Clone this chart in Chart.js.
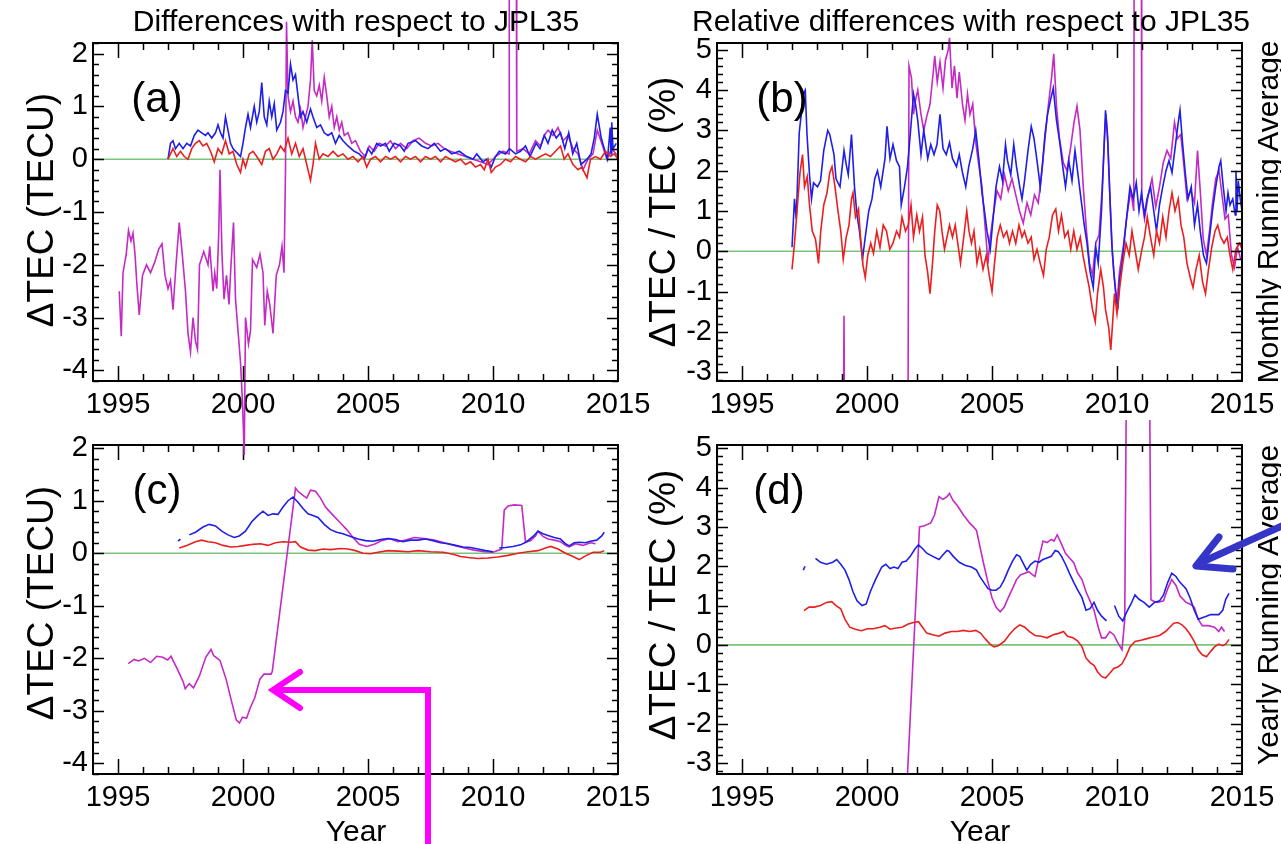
<!DOCTYPE html>
<html>
<head>
<title>TEC differences with respect to JPL35</title>
<script src="https://cdn.jsdelivr.net/npm/chart.js"></script>
<style>
  body { margin: 0; background: #fff; }
  #page { position: relative; width: 1281px; height: 844px; overflow: hidden;
          font-family: "Liberation Sans", Arial, sans-serif; color: #000; }
  canvas { position: absolute; }
  .txt { position: absolute; white-space: nowrap; line-height: 1;
         transform: translate(-50%, -50%); }
  .rot { transform: translate(-50%, -50%) rotate(-90deg); }
  svg { position: absolute; left: 0; top: 0; }
</style>
</head>
<body>
<div id="page">
  <canvas id="panelC" width="660" height="424" style="left:0;top:420px"></canvas>
  <canvas id="panelD" width="641" height="424" style="left:640px;top:420px"></canvas>
  <canvas id="panelA" width="660" height="470" style="left:0;top:0"></canvas>
  <canvas id="panelB" width="641" height="420" style="left:640px;top:0"></canvas>

  <div class="txt" style="left:356px;top:21px;font-size:30px">Differences with respect to JPL35</div>
  <div class="txt" style="left:971px;top:21px;font-size:30px">Relative differences with respect to JPL35</div>

  <div class="txt rot" style="left:40px;top:210px;font-size:37px">&Delta;TEC (TECU)</div>
  <div class="txt rot" style="left:40px;top:603px;font-size:37px">&Delta;TEC (TECU)</div>
  <div class="txt rot" style="left:662px;top:212px;font-size:37px">&Delta;TEC / TEC (%)</div>
  <div class="txt rot" style="left:662px;top:605px;font-size:37px">&Delta;TEC / TEC (%)</div>
  <div class="txt rot" style="left:1268px;top:212px;font-size:30px">Monthly Running Average</div>
  <div class="txt rot" style="left:1268px;top:605px;font-size:30px">Yearly Running Average</div>

  <div class="txt" style="left:356px;top:831px;font-size:30px">Year</div>
  <div class="txt" style="left:980px;top:831px;font-size:30px">Year</div>

  <div class="txt" style="left:157px;top:98px;font-size:42px">(a)</div>
  <div class="txt" style="left:782px;top:98px;font-size:42px">(b)</div>
  <div class="txt" style="left:157px;top:490px;font-size:42px">(c)</div>
  <div class="txt" style="left:779px;top:490px;font-size:42px">(d)</div>

  <svg width="1281" height="844">
    <polyline points="428,850 428,690 276,690" fill="none" stroke="#ff00ff" stroke-width="6"/>
    <polyline points="300,672 273,690 300,708" fill="none" stroke="#ff00ff" stroke-width="6" stroke-linecap="round"/>
    <line x1="1295" y1="520" x2="1200" y2="563" stroke="#3535c8" stroke-width="7"/>
    <polyline points="1219,537 1196,566 1233,569" fill="none" stroke="#3535c8" stroke-width="7"
              stroke-linecap="round" stroke-linejoin="round"/>
  </svg>
</div>

<script>
    // axis ticks
    const xTicks = [1995, 2000, 2005, 2010, 2015];
    const yTicksTecu = [-4, -3, -2, -1, 0, 1, 2];
    const yTicksPct = [-3, -2, -1, 0, 1, 2, 3, 4, 5];
    const zeroLine = [[1994, 0], [2015, 0]];

    // (a) monthly running average, TECU  [year, value]
    const tecuMonthlyRed = [[1997.0,0.0],[1997.1,0.1],[1997.2,0.2],[1997.35,0.05],[1997.5,0.15],[1997.65,0.05],[1997.8,0.0],[1997.95,0.2],[1998.1,0.3],[1998.25,0.35],[1998.4,0.25],[1998.55,0.3],[1998.7,0.15],[1998.85,-0.05],[1999.0,0.2],[1999.15,0.1],[1999.3,0.35],[1999.45,0.1],[1999.6,0.15],[1999.75,-0.1],[1999.9,-0.25],[2000.0,0.0],[2000.1,-0.15],[2000.25,0.1],[2000.4,0.15],[2000.55,0.05],[2000.75,-0.1],[2000.9,0.15],[2001.05,0.2],[2001.2,0.0],[2001.35,0.1],[2001.5,0.25],[2001.65,0.15],[2001.8,0.4],[2001.95,0.1],[2002.1,0.3],[2002.25,0.05],[2002.4,0.2],[2002.55,-0.1],[2002.7,-0.4],[2002.8,-0.1],[2002.9,0.3],[2003.05,0.0],[2003.2,0.1],[2003.4,0.05],[2003.6,0.15],[2003.8,0.05],[2004.0,0.1],[2004.2,0.0],[2004.4,0.05],[2004.6,-0.05],[2004.8,0.05],[2004.95,-0.15],[2005.1,0.0],[2005.3,0.05],[2005.5,-0.05],[2005.7,0.05],[2005.9,0.0],[2006.1,0.05],[2006.3,-0.05],[2006.5,0.05],[2006.7,0.0],[2006.9,0.05],[2007.1,-0.05],[2007.3,0.05],[2007.5,0.0],[2007.7,0.05],[2007.9,-0.05],[2008.1,0.05],[2008.3,0.0],[2008.5,-0.05],[2008.7,0.0],[2008.9,-0.1],[2009.1,-0.05],[2009.3,-0.15],[2009.5,-0.1],[2009.65,-0.2],[2009.8,0.0],[2009.93,-0.25],[2010.1,-0.15],[2010.3,-0.1],[2010.5,0.0],[2010.7,-0.05],[2010.9,0.05],[2011.1,0.0],[2011.3,-0.05],[2011.5,0.05],[2011.7,0.0],[2011.9,0.05],[2012.1,0.1],[2012.3,0.05],[2012.5,0.15],[2012.7,0.25],[2012.85,0.0],[2013.0,0.1],[2013.2,-0.1],[2013.4,-0.2],[2013.55,-0.15],[2013.76,-0.35],[2013.9,0.0],[2014.1,0.05],[2014.3,0.0],[2014.5,0.15],[2014.7,0.05],[2014.85,0.1],[2015.0,0.0]];
    const tecuMonthlyBlue = [[1997.0,0.0],[1997.1,0.3],[1997.2,0.35],[1997.3,0.2],[1997.45,0.3],[1997.6,0.2],[1997.75,0.3],[1997.9,0.25],[1998.05,0.45],[1998.2,0.55],[1998.35,0.5],[1998.5,0.45],[1998.6,0.5],[1998.75,0.4],[1998.9,0.5],[1999.0,0.65],[1999.1,0.5],[1999.2,0.4],[1999.3,0.8],[1999.4,0.55],[1999.5,0.3],[1999.6,0.2],[1999.7,0.15],[1999.8,0.1],[1999.9,0.05],[2000.0,0.3],[2000.1,0.6],[2000.2,0.85],[2000.3,0.6],[2000.45,1.0],[2000.55,0.7],[2000.65,0.9],[2000.75,1.45],[2000.85,0.8],[2000.95,0.65],[2001.05,1.1],[2001.15,0.8],[2001.25,1.05],[2001.35,0.55],[2001.5,0.7],[2001.6,0.9],[2001.7,1.3],[2001.8,1.25],[2001.9,1.8],[2002.0,1.5],[2002.1,1.6],[2002.2,1.2],[2002.3,0.8],[2002.4,0.9],[2002.55,0.7],[2002.7,0.95],[2002.8,0.8],[2002.95,0.6],[2003.1,0.65],[2003.25,0.5],[2003.4,0.45],[2003.55,0.5],[2003.7,0.3],[2003.85,0.45],[2004.0,0.35],[2004.2,0.25],[2004.45,0.15],[2004.65,0.1],[2004.85,0.0],[2005.0,0.2],[2005.15,0.1],[2005.35,0.3],[2005.5,0.25],[2005.7,0.3],[2005.85,0.15],[2006.05,0.3],[2006.3,0.25],[2006.45,0.15],[2006.6,0.3],[2006.9,0.35],[2007.15,0.25],[2007.4,0.2],[2007.65,0.3],[2007.9,0.15],[2008.1,0.2],[2008.35,0.1],[2008.65,0.15],[2008.95,0.05],[2009.2,0.0],[2009.35,0.1],[2009.6,-0.05],[2009.75,0.0],[2009.93,-0.15],[2010.1,0.05],[2010.25,0.15],[2010.5,0.1],[2010.66,0.2],[2010.9,0.1],[2011.1,0.15],[2011.3,0.25],[2011.48,0.05],[2011.72,0.3],[2011.88,0.2],[2012.05,0.45],[2012.2,0.3],[2012.37,0.55],[2012.53,0.4],[2012.7,0.5],[2012.87,0.2],[2013.03,0.5],[2013.19,0.1],[2013.35,0.3],[2013.52,-0.1],[2013.76,0.0],[2013.92,0.1],[2014.05,0.4],[2014.17,0.85],[2014.33,0.4],[2014.45,0.2],[2014.58,0.0],[2014.69,0.6],[2014.72,0.1],[2014.75,0.7],[2014.8,0.2],[2014.93,0.3]];
    const tecuMonthlyMagenta = [[1995.05,-2.5],[1995.13,-3.35],[1995.2,-2.15],[1995.33,-1.8],[1995.42,-1.35],[1995.52,-1.55],[1995.6,-1.4],[1995.68,-1.8],[1995.76,-2.4],[1995.85,-2.95],[1995.98,-2.2],[1996.14,-2.0],[1996.3,-2.15],[1996.47,-1.95],[1996.63,-1.7],[1996.76,-1.6],[1996.88,-2.2],[1997.0,-2.45],[1997.1,-2.3],[1997.2,-2.85],[1997.32,-2.0],[1997.45,-1.2],[1997.58,-1.85],[1997.7,-2.5],[1997.8,-3.3],[1997.9,-3.65],[1998.0,-3.0],[1998.1,-3.45],[1998.18,-3.6],[1998.26,-2.0],[1998.43,-1.75],[1998.6,-2.0],[1998.67,-1.65],[1998.8,-2.5],[1998.87,-2.15],[1998.95,-2.45],[1999.03,-1.4],[1999.08,-0.2],[1999.16,-1.8],[1999.24,-2.65],[1999.34,-2.2],[1999.44,-2.75],[1999.52,-2.0],[1999.62,-1.2],[1999.7,-2.65],[1999.81,-3.3],[1999.9,-3.85],[1999.98,-4.6],[2000.05,-5.6],[2000.1,-3.0],[2000.22,-3.5],[2000.3,-3.25],[2000.38,-1.9],[2000.55,-2.05],[2000.68,-1.8],[2000.8,-2.15],[2000.87,-3.15],[2000.97,-2.5],[2001.07,-2.75],[2001.2,-3.3],[2001.33,-2.2],[2001.46,-2.0],[2001.56,-1.65],[2001.64,-2.15],[2001.7,-0.2],[2001.74,2.6],[2001.8,1.2],[2001.9,0.9],[2002.0,1.1],[2002.1,0.8],[2002.2,0.7],[2002.3,0.95],[2002.4,0.6],[2002.5,0.8],[2002.6,1.0],[2002.7,1.5],[2002.77,2.25],[2002.85,1.3],[2002.95,1.2],[2003.05,1.4],[2003.15,1.1],[2003.25,1.55],[2003.35,1.2],[2003.45,0.8],[2003.55,1.0],[2003.65,0.6],[2003.75,0.8],[2003.85,0.55],[2003.95,0.7],[2004.05,0.45],[2004.2,0.5],[2004.35,0.3],[2004.5,0.35],[2004.7,0.15],[2004.9,0.05],[2005.05,0.25],[2005.25,0.15],[2005.45,0.3],[2005.7,0.25],[2005.9,0.35],[2006.1,0.2],[2006.3,0.3],[2006.55,0.2],[2006.8,0.35],[2007.05,0.4],[2007.3,0.3],[2007.55,0.25],[2007.8,0.3],[2008.05,0.2],[2008.3,0.15],[2008.6,0.1],[2008.9,0.05],[2009.2,0.0],[2009.5,-0.05],[2009.8,-0.1],[2010.1,0.05],[2010.4,0.15],[2010.64,0.1],[2010.65,4.5],[2010.93,4.5],[2010.95,0.15],[2011.2,0.2],[2011.45,0.1],[2011.7,0.35],[2011.9,0.25],[2012.05,0.45],[2012.2,0.55],[2012.4,0.45],[2012.6,0.6],[2012.8,0.35],[2013.0,0.45],[2013.2,0.2],[2013.4,0.1],[2013.6,-0.2],[2013.8,0.0],[2014.0,0.1],[2014.17,0.55],[2014.35,0.3],[2014.55,0.0],[2014.75,0.2],[2015.0,0.05]];

    // (b) monthly running average, percent
    const pctMonthlyRed = [[1997.0,-0.45],[1997.1,0.2],[1997.2,1.0],[1997.32,1.95],[1997.42,2.4],[1997.5,1.6],[1997.61,1.85],[1997.7,1.15],[1997.81,0.5],[1997.94,0.3],[1998.06,-0.3],[1998.15,0.5],[1998.27,1.15],[1998.4,1.45],[1998.51,1.95],[1998.6,2.1],[1998.72,1.6],[1998.84,1.0],[1998.95,0.5],[1999.05,-0.2],[1999.17,0.35],[1999.28,0.65],[1999.38,1.3],[1999.44,1.45],[1999.54,0.85],[1999.66,1.05],[1999.74,0.35],[1999.84,-0.35],[1999.93,-0.65],[2000.03,-0.1],[2000.15,0.2],[2000.26,-0.05],[2000.39,0.5],[2000.52,0.1],[2000.65,0.65],[2000.78,0.5],[2000.91,0.05],[2001.04,0.2],[2001.18,0.5],[2001.3,0.35],[2001.4,0.85],[2001.54,0.5],[2001.65,0.65],[2001.76,1.15],[2001.86,0.35],[2001.99,0.9],[2002.1,0.5],[2002.22,0.85],[2002.32,-0.1],[2002.42,-0.5],[2002.52,-1.05],[2002.62,-0.3],[2002.71,0.5],[2002.81,1.15],[2002.91,1.0],[2003.0,0.5],[2003.1,0.05],[2003.2,0.35],[2003.3,0.65],[2003.42,0.35],[2003.53,0.65],[2003.63,0.2],[2003.74,-0.3],[2003.86,0.3],[2003.99,1.0],[2004.08,0.5],[2004.18,0.2],[2004.28,0.5],[2004.4,-0.3],[2004.51,0.05],[2004.64,-0.45],[2004.77,-0.1],[2004.89,-0.6],[2005.0,-1.0],[2005.1,-0.3],[2005.21,0.35],[2005.33,0.65],[2005.46,0.35],[2005.59,0.5],[2005.7,0.2],[2005.82,0.5],[2005.95,0.2],[2006.08,0.65],[2006.2,0.35],[2006.3,0.5],[2006.44,0.2],[2006.57,0.35],[2006.68,-0.2],[2006.8,0.05],[2006.93,-0.3],[2007.06,-0.6],[2007.17,0.05],[2007.29,0.35],[2007.42,0.9],[2007.55,1.05],[2007.66,0.5],[2007.78,0.9],[2007.91,0.35],[2008.04,0.5],[2008.15,0.05],[2008.27,0.5],[2008.4,0.05],[2008.53,0.35],[2008.64,-0.1],[2008.76,-0.5],[2008.89,-0.9],[2009.02,-1.45],[2009.13,-1.75],[2009.22,-1.05],[2009.35,-0.45],[2009.46,-0.9],[2009.54,-1.45],[2009.67,-1.9],[2009.75,-2.45],[2009.8,-2.0],[2009.9,-1.05],[2010.0,-1.55],[2010.11,-0.9],[2010.23,-0.3],[2010.36,0.2],[2010.49,-0.1],[2010.6,0.5],[2010.72,0.05],[2010.85,-0.45],[2010.98,0.0],[2011.1,0.35],[2011.21,0.85],[2011.34,0.35],[2011.47,-0.1],[2011.58,0.5],[2011.7,0.2],[2011.83,0.85],[2011.96,0.35],[2012.08,1.0],[2012.2,1.45],[2012.32,1.0],[2012.45,1.3],[2012.56,0.65],[2012.67,0.35],[2012.8,-0.3],[2012.93,-0.65],[2013.04,-0.9],[2013.16,-0.45],[2013.29,-0.1],[2013.42,-0.75],[2013.54,-1.05],[2013.66,-0.45],[2013.79,0.1],[2013.92,0.5],[2014.03,0.65],[2014.15,0.35],[2014.28,0.2],[2014.41,0.35],[2014.52,-0.1],[2014.63,-0.45],[2014.76,0.05],[2014.9,0.2],[2015.0,0.05]];
    const pctMonthlyBlue = [[1997.0,0.1],[1997.1,1.3],[1997.17,0.8],[1997.29,2.95],[1997.37,3.4],[1997.45,3.9],[1997.53,4.0],[1997.6,2.9],[1997.7,1.9],[1997.78,1.3],[1997.86,1.7],[1998.02,1.6],[1998.14,1.75],[1998.27,2.5],[1998.43,3.0],[1998.51,2.9],[1998.68,2.4],[1998.76,1.8],[1998.92,1.6],[1999.08,2.5],[1999.17,2.15],[1999.25,1.9],[1999.38,2.9],[1999.5,1.6],[1999.6,0.9],[1999.7,0.5],[1999.82,-0.2],[1999.93,0.35],[2000.07,1.0],[2000.2,1.3],[2000.31,1.8],[2000.42,2.0],[2000.55,1.6],[2000.72,2.3],[2000.8,3.1],[2000.92,2.3],[2001.04,2.65],[2001.18,2.25],[2001.3,2.1],[2001.37,1.15],[2001.5,1.6],[2001.62,2.1],[2001.73,2.9],[2001.86,3.9],[2001.94,3.65],[2002.03,3.25],[2002.16,2.4],[2002.27,3.0],[2002.43,2.3],[2002.55,2.65],[2002.68,2.4],[2002.8,2.65],[2002.92,3.4],[2003.04,2.55],[2003.17,2.4],[2003.3,2.7],[2003.42,2.3],[2003.58,2.1],[2003.69,2.4],[2003.82,1.95],[2003.95,1.6],[2004.07,2.1],[2004.23,2.55],[2004.35,3.0],[2004.48,2.25],[2004.6,1.45],[2004.72,0.9],[2004.8,0.5],[2004.93,0.05],[2005.05,0.85],[2005.16,1.6],[2005.3,2.1],[2005.42,1.75],[2005.54,2.65],[2005.62,2.25],[2005.75,1.9],[2005.87,2.65],[2005.98,2.1],[2006.11,1.6],[2006.2,1.3],[2006.3,1.75],[2006.44,2.5],[2006.57,3.1],[2006.68,2.8],[2006.8,2.25],[2006.93,1.6],[2007.03,2.25],[2007.12,2.9],[2007.22,3.4],[2007.34,3.75],[2007.45,4.05],[2007.58,3.25],[2007.71,2.7],[2007.83,2.1],[2007.94,1.6],[2008.07,2.25],[2008.2,1.75],[2008.32,2.5],[2008.43,1.95],[2008.56,1.3],[2008.69,0.65],[2008.8,0.2],[2008.92,-0.5],[2009.05,-0.9],[2009.15,0.1],[2009.25,-0.3],[2009.38,1.0],[2009.48,2.55],[2009.54,3.5],[2009.62,2.9],[2009.7,1.6],[2009.79,0.2],[2009.87,-0.5],[2009.95,-1.05],[2010.03,-1.45],[2010.11,-0.65],[2010.2,-0.3],[2010.33,0.5],[2010.44,1.15],[2010.52,1.6],[2010.65,1.3],[2010.77,1.7],[2010.88,1.0],[2010.98,1.45],[2011.1,0.9],[2011.2,1.3],[2011.34,1.6],[2011.47,1.0],[2011.58,0.5],[2011.7,1.15],[2011.83,1.6],[2011.96,2.0],[2012.08,2.25],[2012.2,1.95],[2012.32,2.55],[2012.45,3.2],[2012.52,3.5],[2012.62,2.7],[2012.73,1.95],[2012.84,1.3],[2012.97,1.6],[2013.1,0.65],[2013.22,1.15],[2013.33,0.5],[2013.46,-0.1],[2013.58,-0.3],[2013.7,0.35],[2013.82,1.0],[2013.95,1.6],[2014.08,2.1],[2014.15,2.25],[2014.25,1.6],[2014.36,1.0],[2014.44,1.45],[2014.52,1.15],[2014.63,1.3],[2014.73,0.9],[2014.76,2.0],[2014.8,1.0],[2014.85,1.75],[2014.93,1.3],[2015.0,1.0]];
    const pctMonthlyMagenta = [[1995.2,-14],[1998.98,-13],[1999.08,-1.6],[1999.15,-13],[2001.6,-13],[2001.68,4.6],[2001.78,4.3],[2001.86,3.4],[2001.94,3.75],[2002.03,4.0],[2002.16,3.4],[2002.27,3.0],[2002.39,3.35],[2002.52,3.65],[2002.65,4.45],[2002.71,4.85],[2002.81,4.2],[2002.92,4.7],[2003.04,4.05],[2003.14,4.75],[2003.25,5.0],[2003.3,5.3],[2003.4,4.05],[2003.5,4.6],[2003.6,3.8],[2003.69,4.45],[2003.82,3.65],[2003.92,3.25],[2004.02,3.9],[2004.12,3.4],[2004.23,3.65],[2004.35,2.7],[2004.48,2.1],[2004.6,1.6],[2004.72,0.65],[2004.84,-0.3],[2004.93,0.35],[2005.05,0.9],[2005.2,1.5],[2005.35,1.3],[2005.5,1.9],[2005.65,1.5],[2005.8,1.8],[2005.95,1.4],[2006.1,1.0],[2006.25,0.7],[2006.4,1.2],[2006.55,0.9],[2006.7,1.4],[2006.85,1.2],[2007.0,2.0],[2007.12,2.8],[2007.25,3.6],[2007.38,4.3],[2007.47,4.9],[2007.58,3.6],[2007.7,2.8],[2007.85,2.2],[2008.0,2.0],[2008.15,2.6],[2008.28,3.2],[2008.4,3.6],[2008.52,3.0],[2008.65,1.6],[2008.78,0.5],[2008.9,-0.3],[2009.02,-0.6],[2009.15,0.2],[2009.28,0.4],[2009.4,1.5],[2009.5,2.8],[2009.56,3.4],[2009.64,2.6],[2009.72,1.3],[2009.82,-0.1],[2009.9,-0.7],[2010.0,-1.3],[2010.1,-0.5],[2010.25,0.1],[2010.4,0.9],[2010.55,1.5],[2010.67,1.0],[2010.69,9],[2010.97,9],[2010.99,1.3],[2011.1,0.8],[2011.25,1.4],[2011.4,1.8],[2011.55,1.1],[2011.7,1.6],[2011.85,2.2],[2012.0,2.5],[2012.15,2.3],[2012.3,3.2],[2012.42,2.8],[2012.55,2.9],[2012.68,2.1],[2012.8,1.3],[2012.95,1.5],[2013.1,1.2],[2013.22,2.5],[2013.33,1.5],[2013.45,0.3],[2013.58,-0.1],[2013.7,0.5],[2013.82,1.2],[2013.95,1.8],[2014.08,2.0],[2014.2,1.4],[2014.32,0.8],[2014.45,0.9],[2014.58,-0.1],[2014.7,-0.4],[2014.82,0.1],[2014.95,-0.2]];

    // (c) yearly running average, TECU
    const tecuYearlyRed = [[1997.45,0.1],[1997.75,0.15],[1998.1,0.22],[1998.35,0.25],[1998.6,0.22],[1998.9,0.2],[1999.2,0.15],[1999.5,0.12],[1999.8,0.13],[2000.1,0.15],[2000.4,0.17],[2000.7,0.18],[2001.0,0.15],[2001.3,0.2],[2001.6,0.22],[2001.9,0.21],[2002.1,0.22],[2002.3,0.12],[2002.6,0.06],[2002.9,0.05],[2003.2,0.08],[2003.5,0.07],[2003.9,0.09],[2004.2,0.08],[2004.5,0.05],[2004.8,0.0],[2005.1,-0.01],[2005.4,0.02],[2005.8,0.05],[2006.2,0.04],[2006.6,0.03],[2007.0,0.05],[2007.5,0.03],[2008.0,0.02],[2008.4,-0.02],[2008.7,-0.06],[2009.0,-0.08],[2009.4,-0.1],[2009.8,-0.09],[2010.2,-0.07],[2010.6,-0.04],[2011.0,0.0],[2011.4,0.03],[2011.8,0.05],[2012.1,0.1],[2012.3,0.13],[2012.6,0.08],[2012.9,0.0],[2013.2,-0.06],[2013.45,-0.12],[2013.7,-0.05],[2014.0,0.02],[2014.3,0.02],[2014.45,0.05]];
    const tecuYearlyBlue = [[1997.4,0.23],[1997.5,0.27],[1997.6,null],[1997.85,0.35],[1998.1,0.4],[1998.4,0.5],[1998.65,0.55],[1998.9,0.52],[1999.15,0.42],[1999.4,0.35],[1999.65,0.3],[1999.85,0.33],[2000.1,0.42],[2000.35,0.6],[2000.6,0.72],[2000.8,0.8],[2001.0,0.72],[2001.2,0.75],[2001.4,0.74],[2001.6,0.88],[2001.8,1.0],[2002.0,1.07],[2002.2,0.97],[2002.4,0.85],[2002.6,0.75],[2002.8,0.72],[2003.0,0.68],[2003.25,0.55],[2003.5,0.45],[2003.75,0.4],[2004.0,0.37],[2004.3,0.32],[2004.6,0.27],[2004.9,0.24],[2005.2,0.23],[2005.5,0.26],[2005.8,0.28],[2006.1,0.26],[2006.4,0.22],[2006.7,0.25],[2007.0,0.25],[2007.3,0.27],[2007.6,0.24],[2007.9,0.2],[2008.2,0.18],[2008.5,0.15],[2008.8,0.12],[2009.1,0.11],[2009.4,0.08],[2009.7,0.05],[2010.0,0.03],[2010.1,null],[2010.25,0.1],[2010.5,0.11],[2010.8,0.13],[2011.1,0.16],[2011.35,0.22],[2011.6,0.32],[2011.8,0.42],[2012.0,0.37],[2012.2,0.34],[2012.45,0.3],[2012.7,0.27],[2012.9,0.18],[2013.05,0.14],[2013.25,0.2],[2013.45,0.21],[2013.7,0.2],[2013.9,0.23],[2014.15,0.25],[2014.35,0.33],[2014.45,0.4]];
    const tecuYearlyMagenta = [[1995.41,-2.1],[1995.65,-2.02],[1995.82,-2.05],[1996.06,-2.0],[1996.3,-2.08],[1996.55,-1.96],[1996.79,-1.98],[1996.99,-2.03],[1997.12,-1.96],[1997.37,-2.2],[1997.61,-2.45],[1997.69,-2.58],[1997.85,-2.48],[1998.02,-2.56],[1998.26,-2.33],[1998.51,-1.98],[1998.72,-1.83],[1998.83,-1.95],[1999.08,-2.04],[1999.32,-2.39],[1999.57,-2.87],[1999.73,-3.17],[1999.86,-3.23],[1999.98,-3.12],[2000.14,-3.14],[2000.3,-2.93],[2000.47,-2.75],[2000.68,-2.39],[2000.84,-2.3],[2001.12,-2.3],[2001.17,-2.25],[2002.1,1.24],[2002.2,1.18],[2002.4,1.1],[2002.55,1.05],[2002.7,1.2],[2002.9,1.18],[2003.1,1.05],[2003.3,0.88],[2003.55,0.75],[2003.85,0.6],[2004.15,0.45],[2004.4,0.3],[2004.65,0.17],[2004.95,0.13],[2005.25,0.17],[2005.55,0.24],[2005.85,0.28],[2006.2,0.22],[2006.5,0.25],[2006.85,0.3],[2007.25,0.28],[2007.65,0.25],[2008.05,0.2],[2008.45,0.15],[2008.85,0.1],[2009.25,0.06],[2009.65,0.03],[2010.0,0.02],[2010.35,0.08],[2010.45,0.82],[2010.6,0.9],[2010.85,0.92],[2011.15,0.91],[2011.3,0.22],[2011.5,0.24],[2011.7,0.33],[2011.8,0.42],[2012.0,0.32],[2012.2,0.27],[2012.45,0.25],[2012.7,0.22],[2012.9,0.15],[2013.05,0.12],[2013.3,0.18],[2013.6,0.15],[2013.9,0.2],[2014.1,0.18]];

    // (d) yearly running average, percent
    const pctYearlyRed = [[1997.48,0.87],[1997.68,0.96],[1997.89,0.96],[1998.14,1.0],[1998.38,1.08],[1998.59,1.1],[1998.76,1.0],[1998.95,0.92],[1999.12,0.65],[1999.31,0.45],[1999.53,0.4],[1999.77,0.36],[2000.02,0.41],[2000.26,0.41],[2000.51,0.45],[2000.72,0.49],[2000.92,0.4],[2001.16,0.43],[2001.4,0.45],[2001.65,0.53],[2001.86,0.57],[2002.06,0.59],[2002.22,0.45],[2002.39,0.3],[2002.63,0.26],[2002.88,0.22],[2003.12,0.3],[2003.37,0.34],[2003.61,0.34],[2003.86,0.37],[2004.1,0.34],[2004.35,0.37],[2004.54,0.3],[2004.75,0.14],[2004.92,0.02],[2005.08,-0.05],[2005.25,-0.02],[2005.49,0.09],[2005.69,0.26],[2005.9,0.41],[2006.11,0.51],[2006.31,0.45],[2006.5,0.34],[2006.72,0.24],[2006.96,0.22],[2007.2,0.18],[2007.45,0.26],[2007.7,0.3],[2007.86,0.34],[2008.02,0.22],[2008.24,0.18],[2008.43,0.1],[2008.6,-0.05],[2008.76,-0.33],[2008.92,-0.45],[2009.08,-0.52],[2009.22,-0.68],[2009.38,-0.8],[2009.54,-0.84],[2009.71,-0.72],[2009.87,-0.6],[2010.03,-0.56],[2010.2,-0.48],[2010.36,-0.29],[2010.52,-0.05],[2010.72,0.09],[2010.96,0.12],[2011.2,0.16],[2011.45,0.2],[2011.7,0.24],[2011.94,0.34],[2012.11,0.45],[2012.27,0.55],[2012.43,0.57],[2012.6,0.51],[2012.76,0.41],[2012.92,0.27],[2013.09,0.09],[2013.25,-0.13],[2013.41,-0.25],[2013.58,-0.3],[2013.74,-0.17],[2013.9,-0.05],[2014.07,0.02],[2014.23,-0.02],[2014.35,0.02],[2014.48,0.14]];
    const pctYearlyBlue = [[1997.45,1.9],[1997.52,2.0],[1997.7,null],[1997.94,2.2],[1998.14,2.1],[1998.38,2.05],[1998.63,2.1],[1998.79,2.17],[1998.95,2.05],[1999.12,1.9],[1999.28,1.66],[1999.44,1.35],[1999.6,1.12],[1999.8,1.0],[1999.97,1.04],[2000.13,1.35],[2000.34,1.66],[2000.59,1.98],[2000.75,2.05],[2000.92,1.94],[2001.08,1.98],[2001.24,1.94],[2001.4,2.1],[2001.57,2.13],[2001.73,2.25],[2001.93,2.45],[2002.06,2.54],[2002.22,2.45],[2002.39,2.33],[2002.63,2.25],[2002.88,2.17],[2003.04,2.29],[2003.2,2.4],[2003.28,2.38],[2003.45,2.25],[2003.69,2.1],[2003.94,2.02],[2004.18,1.98],[2004.38,1.9],[2004.51,1.74],[2004.67,1.59],[2004.84,1.43],[2005.0,1.39],[2005.16,1.39],[2005.33,1.47],[2005.49,1.66],[2005.65,1.9],[2005.82,2.13],[2005.98,2.29],[2006.11,2.25],[2006.23,2.1],[2006.39,1.9],[2006.55,2.05],[2006.72,2.13],[2006.88,2.1],[2007.04,2.17],[2007.2,2.21],[2007.37,2.25],[2007.53,2.4],[2007.65,2.37],[2007.78,2.25],[2007.94,2.05],[2008.1,1.82],[2008.27,1.59],[2008.43,1.39],[2008.6,1.2],[2008.76,0.88],[2008.92,0.92],[2009.08,1.08],[2009.22,0.88],[2009.38,0.73],[2009.58,0.61],[2009.7,null],[2009.9,1.0],[2010.07,0.73],[2010.23,0.61],[2010.39,0.84],[2010.56,1.04],[2010.72,1.27],[2010.88,1.16],[2011.08,1.08],[2011.29,0.96],[2011.5,1.08],[2011.7,1.12],[2011.86,1.27],[2012.03,1.59],[2012.19,1.82],[2012.36,1.74],[2012.52,1.59],[2012.76,1.43],[2012.92,1.2],[2013.09,0.88],[2013.25,0.65],[2013.41,0.69],[2013.58,0.73],[2013.74,0.77],[2013.9,0.77],[2014.07,0.77],[2014.23,0.88],[2014.35,1.16],[2014.48,1.31]];
    const pctYearlyMagenta = [[2001.45,-5.5],[2002.1,3.0],[2002.3,3.03],[2002.55,3.1],[2002.7,3.3],[2002.88,3.77],[2003.04,3.7],[2003.2,3.77],[2003.3,3.85],[2003.45,3.66],[2003.61,3.54],[2003.86,3.3],[2004.1,3.1],[2004.26,3.0],[2004.38,2.91],[2004.51,2.52],[2004.67,2.05],[2004.84,1.59],[2005.0,1.2],[2005.16,0.96],[2005.33,0.84],[2005.49,0.96],[2005.65,1.2],[2005.82,1.43],[2005.98,1.66],[2006.14,1.78],[2006.31,1.82],[2006.47,1.86],[2006.63,1.78],[2006.72,1.74],[2006.88,2.21],[2007.04,2.64],[2007.2,2.6],[2007.37,2.68],[2007.48,2.64],[2007.61,2.8],[2007.78,2.56],[2007.94,2.33],[2008.1,2.21],[2008.27,2.09],[2008.43,1.82],[2008.6,1.66],[2008.76,1.35],[2008.92,1.12],[2009.08,0.88],[2009.25,0.45],[2009.38,0.18],[2009.54,0.18],[2009.71,0.34],[2009.87,0.26],[2010.03,0.06],[2010.2,-0.12],[2010.31,0.65],[2010.4,9],[2011.28,9],[2011.36,1.15],[2011.5,1.1],[2011.62,1.08],[2011.86,1.12],[2012.03,1.43],[2012.19,1.66],[2012.36,1.51],[2012.52,1.24],[2012.76,1.08],[2012.92,1.04],[2013.09,0.96],[2013.25,0.65],[2013.41,0.49],[2013.65,0.49],[2013.9,0.45],[2014.07,0.34],[2014.18,0.45],[2014.3,0.34]];

    const BLUE = '#1f1fe8', RED = '#ea2020', MAGENTA = '#c42ac4', GREEN = '#7cc47c';
    const tickFont = { family: '"Liberation Sans", Arial, sans-serif', size: 29 };

    // box round the plot with inward ticks, like the original
    const framePlugin = {
        id: 'frame',
        afterDatasetsDraw(chart) {
            const { ctx, chartArea: a, scales: { x, y } } = chart;
            ctx.save();
            ctx.strokeStyle = '#000';
            ctx.lineWidth = 1.5;
            ctx.beginPath();
            for (let yr = 1995; yr <= 2014; yr++) {
                const px = Math.round(x.getPixelForValue(yr)) + 0.5;
                const len = yr % 5 === 0 ? 15 : 7;
                ctx.moveTo(px, a.bottom); ctx.lineTo(px, a.bottom - len);
                ctx.moveTo(px, a.top); ctx.lineTo(px, a.top + len);
            }
            for (let k = Math.ceil(y.min * 5); k <= Math.floor(y.max * 5); k++) {
                const py = Math.round(y.getPixelForValue(k / 5)) + 0.5;
                const len = k % 5 === 0 ? 11 : 6;
                ctx.moveTo(a.left, py); ctx.lineTo(a.left + len, py);
                ctx.moveTo(a.right, py); ctx.lineTo(a.right - len, py);
            }
            ctx.stroke();
            ctx.lineWidth = 2;
            ctx.strokeRect(a.left, a.top, a.right - a.left, a.bottom - a.top);
            ctx.restore();
        }
    };

    function line(data, color, clip) {
        return {
            data: data, borderColor: color, borderWidth: 1.6,
            pointRadius: 0, tension: 0, spanGaps: false,
            clip: clip === undefined ? 0 : clip
        };
    }

    function makePanel(id, p) {
        new Chart(document.getElementById(id), {
            type: 'line',
            data: { datasets: p.datasets },
            options: {
                responsive: false,
                animation: false,
                devicePixelRatio: 1,
                layout: { padding: { left: 0, top: p.top, right: p.right, bottom: p.bottom } },
                plugins: { legend: { display: false }, tooltip: { enabled: false } },
                scales: {
                    x: {
                        type: 'linear', min: 1994, max: 2015,
                        grid: { display: false, drawTicks: false },
                        border: { display: false },
                        ticks: { color: '#000', font: tickFont, padding: 7, maxRotation: 0,
                                 callback: v => String(v) },
                        afterBuildTicks: s => { s.ticks = xTicks.map(v => ({ value: v })); },
                        afterFit: s => { s.height = p.xHeight; s.paddingLeft = 0; s.paddingRight = 0; }
                    },
                    y: {
                        type: 'linear', min: p.yMin, max: p.yMax,
                        grid: { display: false, drawTicks: false },
                        border: { display: false },
                        ticks: { color: '#000', font: tickFont, padding: 5,
                                 callback: v => String(v) },
                        afterBuildTicks: s => { s.ticks = p.yTicks.map(v => ({ value: v })); },
                        afterFit: s => { s.width = p.yWidth; s.paddingTop = 0; s.paddingBottom = 0; }
                    }
                }
            },
            plugins: [framePlugin]
        });
    }

    const openTop = { left: 0, top: false, right: 0, bottom: 0 };

    window.onload = function() {
        makePanel('panelA', {
            yMin: -4.2, yMax: 2.2, yTicks: yTicksTecu,
            yWidth: 93, xHeight: 40, top: 43, right: 42, bottom: 49,
            datasets: [
                line(tecuMonthlyRed, RED),
                line(tecuMonthlyBlue, BLUE),
                line(tecuMonthlyMagenta, MAGENTA, false),
                line(zeroLine, GREEN)
            ]
        });
        makePanel('panelB', {
            yMin: -3.22, yMax: 5.17, yTicks: yTicksPct,
            yWidth: 77, xHeight: 39, top: 43, right: 39, bottom: 0,
            datasets: [
                line(pctMonthlyRed, RED),
                line(pctMonthlyBlue, BLUE),
                line(pctMonthlyMagenta, MAGENTA, openTop),
                line(zeroLine, GREEN)
            ]
        });
        makePanel('panelC', {
            yMin: -4.2, yMax: 2.06, yTicks: yTicksTecu,
            yWidth: 93, xHeight: 40, top: 25, right: 42, bottom: 30,
            datasets: [
                line(tecuYearlyRed, RED),
                line(tecuYearlyBlue, BLUE),
                line(tecuYearlyMagenta, MAGENTA),
                line(zeroLine, GREEN)
            ]
        });
        makePanel('panelD', {
            yMin: -3.28, yMax: 5.08, yTicks: yTicksPct,
            yWidth: 77, xHeight: 40, top: 25, right: 39, bottom: 30,
            datasets: [
                line(pctYearlyRed, RED),
                line(pctYearlyBlue, BLUE),
                line(pctYearlyMagenta, MAGENTA, openTop),
                line(zeroLine, GREEN)
            ]
        });
    };
</script>
</body>
</html>
